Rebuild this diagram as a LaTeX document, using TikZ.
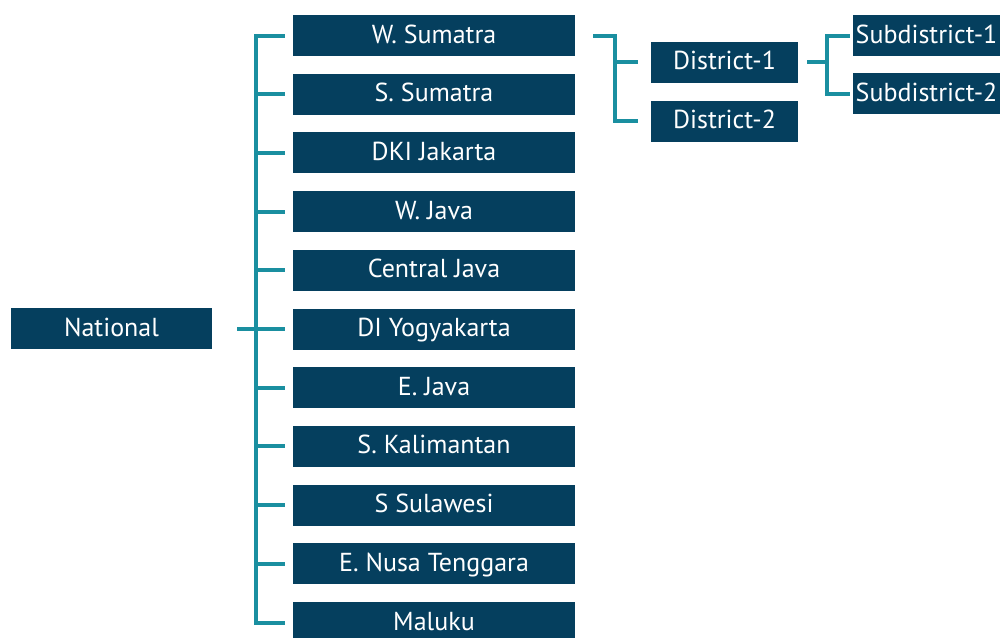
\documentclass[tikz,border=0pt]{standalone}
\usepackage{fontspec}
\setmainfont{PT Sans}
\definecolor{boxblue}{RGB}{5,63,94}
\definecolor{linkteal}{RGB}{26,143,160}
\tikzset{
  region/.style={fill=boxblue,text=white,inner sep=0pt,minimum height=41pt,
    text height=20pt,text depth=5pt,font=\fontsize{26}{30}\selectfont},
  link/.style={draw=linkteal,line width=4pt}
}
\begin{document}
\begin{tikzpicture}[x=1pt,y=-1pt]
\useasboundingbox (0,0) rectangle (1000,637);
\clip (0,0) rectangle (1000,637);

\node[region,minimum width=201pt] (nat) at (111.5,328.5) {National};

\node[region,minimum width=282pt] (p1) at (434,35.5) {W. Sumatra};
\node[region,minimum width=282pt] (p2) at (434,94.2) {S. Sumatra};
\node[region,minimum width=282pt] (p3) at (434,152.9) {DKI Jakarta};
\node[region,minimum width=282pt] (p4) at (434,211.6) {W. Java};
\node[region,minimum width=282pt] (p5) at (434,270.3) {Central Java};
\node[region,minimum width=282pt] (p6) at (434,329) {DI Yogyakarta};
\node[region,minimum width=282pt] (p7) at (434,387.7) {E. Java};
\node[region,minimum width=282pt] (p8) at (434,446.4) {S. Kalimantan};
\node[region,minimum width=282pt] (p9) at (434,505.1) {S Sulawesi};
\node[region,minimum width=282pt] (p10) at (434,563.8) {E. Nusa Tenggara};
\node[region,minimum width=282pt] (p11) at (434,622.5) {Maluku};

\node[region,minimum width=147pt] (d1) at (724.5,62) {District-1};
\node[region,minimum width=147pt] (d2) at (724.5,121) {District-2};

\node[region,minimum width=147pt] (s1) at (926.5,35.5) {Subdistrict-1};
\node[region,minimum width=147pt] (s2) at (926.5,93.5) {Subdistrict-2};

\coordinate (trunk) at (256,0);
\coordinate (dtrunk) at (615,0);
\coordinate (strunk) at (827,0);

\draw[link] ([xshift=25pt]nat.east) -- ([xshift=65pt]nat.east);
\draw[link] ([xshift=-8pt]p1.west) -| (trunk |- p11.west) -- ([xshift=-8pt]p11.west);
\draw[link] ([xshift=-8pt]p2.west) -- (trunk |- p2.west);
\draw[link] ([xshift=-8pt]p3.west) -- (trunk |- p3.west);
\draw[link] ([xshift=-8pt]p4.west) -- (trunk |- p4.west);
\draw[link] ([xshift=-8pt]p5.west) -- (trunk |- p5.west);
\draw[link] ([xshift=-8pt]p6.west) -- (trunk |- p6.west);
\draw[link] ([xshift=-8pt]p7.west) -- (trunk |- p7.west);
\draw[link] ([xshift=-8pt]p8.west) -- (trunk |- p8.west);
\draw[link] ([xshift=-8pt]p9.west) -- (trunk |- p9.west);
\draw[link] ([xshift=-8pt]p10.west) -- (trunk |- p10.west);

\draw[link] ([xshift=18pt]p1.east) -| (dtrunk |- d2.west) -- ([xshift=-13pt]d2.west);
\draw[link] (dtrunk |- d1.west) -- ([xshift=-13pt]d1.west);

\draw[link] ([xshift=-3pt]s1.west) -| (strunk |- s2.west) -- ([xshift=-3pt]s2.west);
\draw[link] ([xshift=9pt]d1.east) -- (strunk |- d1.east);
\end{tikzpicture}
\end{document}
